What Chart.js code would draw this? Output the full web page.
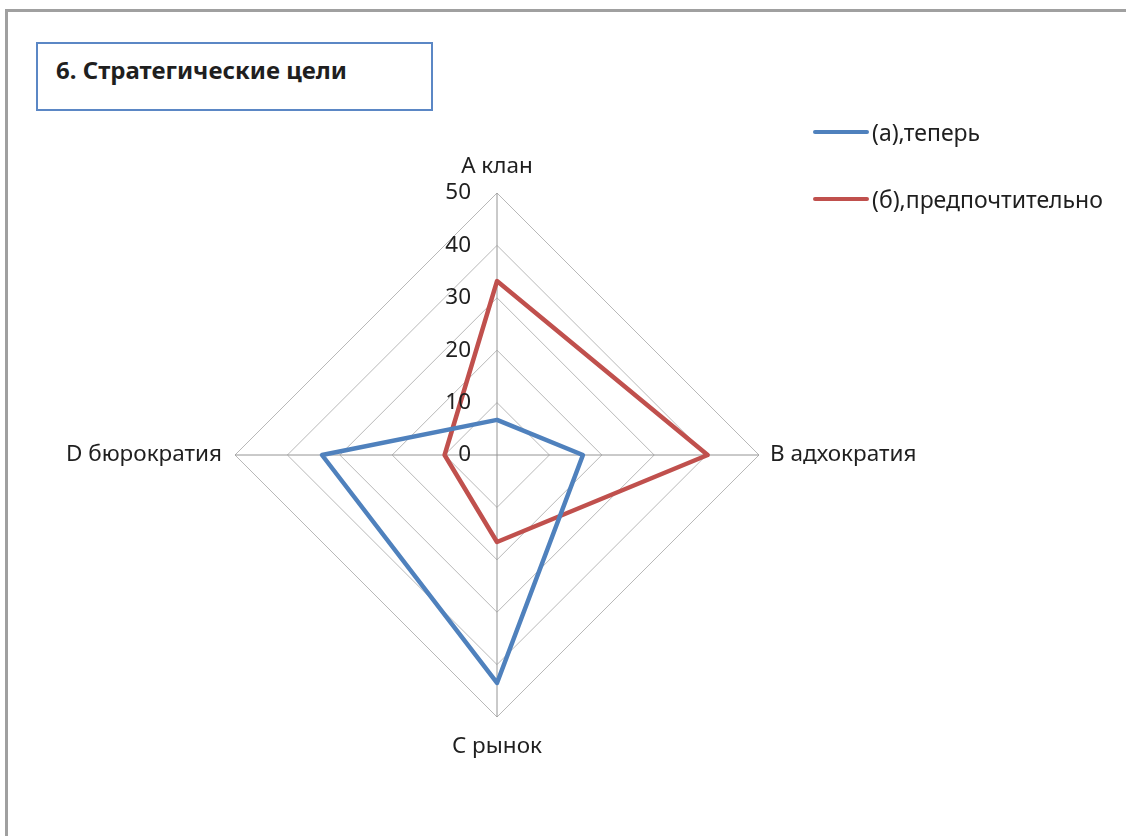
<!DOCTYPE html>
<html lang="ru">
<head>
<meta charset="utf-8">
<title>6. Стратегические цели</title>
<script src="https://cdn.jsdelivr.net/npm/chart.js@4.4.1/dist/chart.umd.min.js"></script>
<style>
    html, body {
        margin: 0;
        padding: 0;
        background: #ffffff;
        width: 1126px;
        height: 836px;
        overflow: hidden;
        font-family: "Noto Sans", "Open Sans", sans-serif;
        color: #1f1f1f;
    }
    .frame {
        position: absolute;
        left: 5px;
        top: 9px;
        right: 0;
        bottom: 0;
        border-top: 3px solid #a0a0a0;
        border-left: 3px solid #a0a0a0;
    }
    #radarChart {
        position: absolute;
        left: 0;
        top: 0;
    }
    .title-box {
        position: absolute;
        left: 36px;
        top: 42px;
        width: 397px;
        height: 69px;
        box-sizing: border-box;
        border: 2px solid #5b87c5;
    }
    .title-box span {
        position: absolute;
        left: 18px;
        top: 14px;
        font-size: 24px;
        line-height: 24px;
        font-weight: bold;
        white-space: nowrap;
    }
    .legend {
        position: absolute;
        left: 813px;
        top: 120px;
    }
    .legend-row {
        display: flex;
        align-items: center;
        height: 24px;
        margin-bottom: 43px;
    }
    .legend-line {
        width: 56px;
        height: 4px;
        border-radius: 2px;
        margin-right: 3px;
    }
    .legend-text {
        font-size: 23px;
        line-height: 24px;
        white-space: nowrap;
    }
</style>
</head>
<body>
<div class="frame"></div>
<div class="title-box"><span>6. Стратегические цели</span></div>
<canvas id="radarChart" width="1126" height="836"></canvas>
<div class="legend" id="legend"></div>

<script>
// Axes of the culture profile
const categories = ['A клан', 'B адхократия', 'C рынок', 'D бюрократия'];

// Series values, %
const nowValues = [6.7, 16.4, 43.5, 33.4];
const preferredValues = [33.2, 40.2, 16.6, 10.0];

// Radial scale ticks
const tickLabels = [0, 10, 20, 30, 40, 50];

const seriesNames = ['(а),теперь', '(б),предпочтительно'];
const seriesColors = ['#4f81bd', '#c0504d'];

const labelFont = '22.5px "Noto Sans", "Open Sans", sans-serif';

// Draws axis captions and tick numbers next to the vertical axis
const axisTextPlugin = {
    id: 'axisText',
    afterDraw(chart) {
        const scale = chart.scales.r;
        const ctx = chart.ctx;
        ctx.save();
        ctx.font = labelFont;
        ctx.fillStyle = '#1f1f1f';

        // tick numbers, right-aligned left of the vertical axis
        ctx.textAlign = 'right';
        ctx.textBaseline = 'middle';
        tickLabels.forEach(value => {
            const y = scale.yCenter - scale.getDistanceFromCenterForValue(value);
            ctx.fillText(String(value), scale.xCenter - 26, y);
        });

        // category captions outside each vertex
        categories.forEach((label, i) => {
            const pos = scale.getPointPosition(i, scale.drawingArea);
            const dx = pos.x - scale.xCenter;
            const dy = pos.y - scale.yCenter;
            if (Math.abs(dy) > Math.abs(dx)) {
                ctx.textAlign = 'center';
                ctx.textBaseline = 'alphabetic';
                ctx.fillText(label, pos.x, dy < 0 ? pos.y - 20 : pos.y + 36);
            } else {
                ctx.textAlign = dx > 0 ? 'left' : 'right';
                ctx.textBaseline = 'middle';
                ctx.fillText(label, dx > 0 ? pos.x + 11 : pos.x - 13, pos.y);
            }
        });
        ctx.restore();
    }
};

function createRadarChart() {
    const ctx = document.getElementById('radarChart').getContext('2d');

    return new Chart(ctx, {
        type: 'radar',
        data: {
            labels: categories,
            datasets: [
                { label: seriesNames[0], data: nowValues, borderColor: seriesColors[0] },
                { label: seriesNames[1], data: preferredValues, borderColor: seriesColors[1] }
            ].map(ds => Object.assign(ds, {
                backgroundColor: 'transparent',
                borderWidth: 4.5,
                borderJoinStyle: 'round',
                fill: false,
                tension: 0,
                pointRadius: 0,
                pointHoverRadius: 0
            }))
        },
        options: {
            responsive: false,
            animation: false,
            layout: {
                padding: { left: 235, top: 193, right: 367, bottom: 119 }
            },
            plugins: {
                legend: { display: false },
                tooltip: { enabled: false }
            },
            scales: {
                r: {
                    min: tickLabels[0],
                    max: tickLabels[tickLabels.length - 1],
                    ticks: {
                        stepSize: tickLabels[1] - tickLabels[0],
                        display: false
                    },
                    pointLabels: { display: false },
                    grid: { color: '#b8b8b8', lineWidth: 1 },
                    angleLines: { color: '#949494', lineWidth: 1 }
                }
            }
        },
        plugins: [axisTextPlugin]
    });
}

// Legend rows built from the chart datasets
function buildLegend(chart) {
    const box = document.getElementById('legend');
    chart.data.datasets.forEach(ds => {
        const row = document.createElement('div');
        row.className = 'legend-row';
        row.innerHTML = `
            <div class="legend-line" style="background:${ds.borderColor}"></div>
            <div class="legend-text">${ds.label}</div>
        `;
        box.appendChild(row);
    });
}

const chart = createRadarChart();
buildLegend(chart);
</script>
</body>
</html>
